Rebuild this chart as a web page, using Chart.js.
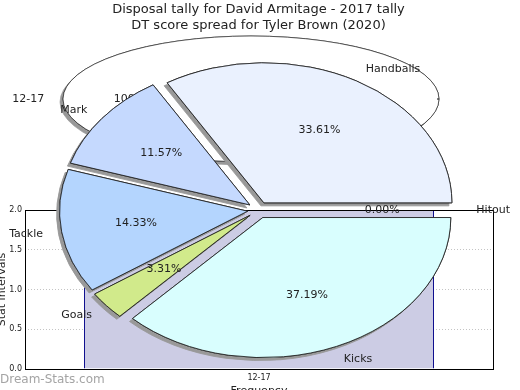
<!DOCTYPE html>
<html>
<head>
<meta charset="utf-8">
<script src="https://cdn.jsdelivr.net/npm/chart.js@4.4.0/dist/chart.umd.min.js"></script>
<style>
html, body { margin: 0; padding: 0; background: #fff; overflow: hidden; }
#wrap { position: relative; width: 520px; height: 390px; }
#wrap canvas { position: absolute; left: 0; top: 0; }
</style>
</head>
<body>
<div id="wrap">
  <canvas id="bars" width="520" height="398"></canvas>
  <canvas id="back" width="520" height="390"></canvas>
  <canvas id="pie" width="520" height="390"></canvas>
</div>
<script>
/** chart data **/
const titleLines = ["Disposal tally for David Armitage - 2017 tally", "DT score spread for Tyler Brown (2020)"];

const statLabels = ["Handballs", "Mark", "Tackle", "Goals", "Kicks", "Hitout"];
const statShares = [33.61, 11.57, 14.33, 3.31, 37.19, 0.00];
const statColors = ["#eaf1fe", "#c5d9fe", "#b4d5fe", "#d1ea8b", "#d9fefe", "#ffffff"];

const spreadLabels = ["12-17"];
const spreadShares = [100];

const freqCategories = ["12-17"];
const freqValues = [2];

Chart.defaults.font.family = '"DejaVu Sans", sans-serif';
Chart.defaults.color = "#222";

/** squashed + exploded pie, the arcs are still drawn by chart.js itself **/
function squashPie(k, explode, pctDist, labelDist, hideSeam) {
  function drawArcs(chart, shadow) {
    var ctx = chart.ctx;
    var arcs = chart.getDatasetMeta(0).data;
    ctx.save();
    if (hideSeam) {
      // a lone 100% wedge has no visible radial edge
      var a0 = arcs[0];
      ctx.beginPath();
      ctx.rect(0, 0, chart.width, chart.height);
      ctx.rect(a0.x, a0.y - 3, a0.outerRadius - 2, 6);
      ctx.clip("evenodd");
    }
    if (shadow) {
      ctx.shadowColor = "#999";
      ctx.shadowOffsetX = -3;
      ctx.shadowOffsetY = 3;
      ctx.shadowBlur = 0;
    }
    arcs.forEach(function(arc) {
      var mid = (arc.startAngle + arc.endAngle) / 2;
      ctx.save();
      ctx.translate(arc.x, arc.y);
      ctx.scale(1, -k);
      ctx.translate(Math.cos(mid) * explode, Math.sin(mid) * explode);
      ctx.translate(-arc.x, -arc.y);
      arc.draw(ctx);
      ctx.restore();
    });
    ctx.restore();
  }
  return {
    id: "squashPie",
    beforeDatasetsDraw(chart) {
      drawArcs(chart, true);
      drawArcs(chart, false);
      return false;
    },
    afterDraw(chart) {
      var ctx = chart.ctx;
      var arcs = chart.getDatasetMeta(0).data;
      var labels = chart.data.labels;
      var vals = chart.data.datasets[0].data;
      ctx.save();
      ctx.font = '11px "DejaVu Sans"';
      ctx.fillStyle = "#222";
      ctx.textBaseline = "middle";
      arcs.forEach(function(arc, i) {
        var mid = (arc.startAngle + arc.endAngle) / 2;
        var r = arc.outerRadius;
        var c = Math.cos(mid), s = Math.sin(mid);
        var d = explode + labelDist * r;
        ctx.textAlign = c >= -1e-9 ? "left" : "right";
        ctx.fillText(labels[i], arc.x + c * d, arc.y - k * s * d);
        d = explode + pctDist * r;
        ctx.textAlign = "center";
        ctx.fillText(vals[i].toFixed(2) + "%", arc.x + c * d, arc.y - k * s * d);
      });
      ctx.restore();
    }
  };
}

/** frame + watermark for the bar chart **/
var frameBox = {
  id: "frameBox",
  afterDraw(chart) {
    var ctx = chart.ctx;
    var a = chart.chartArea;
    ctx.save();
    ctx.strokeStyle = "#000";
    ctx.lineWidth = 1;
    ctx.strokeRect(Math.round(a.left) + 0.5, Math.round(a.top) + 0.5, Math.round(a.right - a.left), Math.round(a.bottom - a.top));
    ctx.font = '12px "DejaVu Sans"';
    ctx.fillStyle = "#a4a4a4";
    ctx.textBaseline = "middle";
    ctx.textAlign = "left";
    ctx.fillText("Dream-Stats.com", 0, 380);
    ctx.restore();
  }
};

new Chart(document.getElementById("bars"), {
  type: "bar",
  data: {
    labels: freqCategories,
    datasets: [{
      data: freqValues,
      backgroundColor: "#ccccE4",
      borderColor: "#000088",
      borderWidth: 1,
      barPercentage: 0.748,
      categoryPercentage: 1
    }]
  },
  options: {
    responsive: false,
    animation: false,
    layout: { padding: { top: 210, right: 27, left: 0, bottom: 0 } },
    plugins: { legend: { display: false }, tooltip: { enabled: false } },
    scales: {
      x: {
        grid: { display: false, drawTicks: false },
        border: { display: false },
        ticks: { font: { size: 8 }, color: "#222", padding: 4 },
        title: { display: true, text: "Frequency", font: { size: 11 }, color: "#222", padding: { top: 0, bottom: 0 } },
        afterFit: function(scale) { scale.height = 29; }
      },
      y: {
        min: 0,
        max: 2,
        ticks: {
          stepSize: 0.5,
          font: { size: 8 },
          color: "#222",
          padding: 3,
          callback: function(v) { return v.toFixed(1); }
        },
        grid: { color: "#c4c4c4", drawTicks: false },
        border: { display: false, dash: [1, 2] },
        title: { display: true, text: "Stat intervals", font: { size: 11 }, color: "#222", padding: { top: -4, bottom: 0 } },
        afterFit: function(scale) { scale.width = 25; }
      }
    }
  },
  plugins: [frameBox]
});

/** the flat ellipse behind **/
new Chart(document.getElementById("back"), {
  type: "pie",
  data: {
    labels: spreadLabels,
    datasets: [{
      data: spreadShares,
      backgroundColor: "#ffffff",
      borderColor: "#222",
      borderWidth: 1,
      radius: 188,
      clip: false
    }]
  },
  options: {
    responsive: false,
    animation: false,
    rotation: 90,
    layout: { padding: { top: 0, left: 0, right: 18, bottom: 192 } },
    plugins: { legend: { display: false }, tooltip: { enabled: false } }
  },
  plugins: [squashPie(0.335, 0, 0.6, 1.1, true)]
});

/** main stat pie **/
new Chart(document.getElementById("pie"), {
  type: "pie",
  data: {
    labels: statLabels,
    datasets: [{
      data: statShares,
      backgroundColor: statColors,
      borderColor: "#222",
      borderWidth: 1,
      radius: 188,
      clip: false
    }]
  },
  options: {
    responsive: false,
    animation: false,
    rotation: 90,
    layout: { padding: { top: 0, left: 0, right: 3, bottom: 4 } },
    plugins: {
      legend: { display: false },
      tooltip: { enabled: false },
      title: {
        display: true,
        text: titleLines,
        color: "#222",
        font: { size: 13, weight: "normal", lineHeight: 1.23 },
        padding: { top: 2, bottom: 0 }
      }
    }
  },
  plugins: [squashPie(0.745, 11, 0.6, 1.1, false)]
});
</script>
</body>
</html>
